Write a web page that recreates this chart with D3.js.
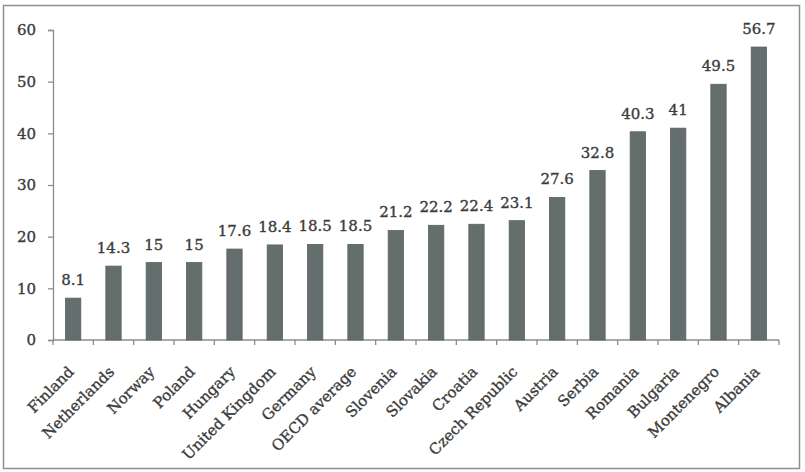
<!DOCTYPE html>
<html>
<head>
<meta charset="utf-8">
<script src="https://cdn.jsdelivr.net/npm/d3@7"></script>
<style>
  body { margin: 0; background: #fff; }
  svg text { font-family: 'DejaVu Serif', serif; fill: #3c3c3c; stroke: #3c3c3c; stroke-width: 0.35px; }
</style>
</head>
<body>
<svg id="chart" width="805" height="472"></svg>
<script>
const countries = ['Finland', 'Netherlands', 'Norway', 'Poland', 'Hungary', 'United Kingdom',
  'Germany', 'OECD average', 'Slovenia', 'Slovakia', 'Croatia', 'Czech Republic',
  'Austria', 'Serbia', 'Romania', 'Bulgaria', 'Montenegro', 'Albania'];
const values = [8.1, 14.3, 15, 15, 17.6, 18.4, 18.5, 18.5, 21.2, 22.2, 22.4, 23.1,
  27.6, 32.8, 40.3, 41, 49.5, 56.7];
const yTicks = [0, 10, 20, 30, 40, 50, 60];

const w = 805;
const h = 472;
const margin = { top: 30, right: 26, bottom: 132, left: 53 };

const svg = d3.select('#chart');

// outer frame
svg.append('rect')
  .attr('x', 3.5).attr('y', 5.5)
  .attr('width', 796).attr('height', 463)
  .attr('fill', 'none')
  .attr('stroke', '#8f8f8f')
  .attr('stroke-width', 1.5);

const xScale = d3.scaleBand()
  .domain(countries)
  .range([margin.left, w - margin.right])
  .paddingInner(0.62)
  .paddingOuter(0.31);

const yScale = d3.scaleLinear()
  .domain([0, 60])
  .range([h - margin.bottom, margin.top]);

// y axis
const yAxis = svg.append('g')
  .attr('transform', `translate(${margin.left}, 0)`)
  .call(d3.axisLeft(yScale).tickValues(yTicks).tickSize(5).tickPadding(12).tickFormat(d3.format('d')));
yAxis.select('.domain').attr('stroke', '#8c8c8c').attr('stroke-width', 1.3);
yAxis.selectAll('.tick line').attr('stroke', '#8c8c8c').attr('stroke-width', 1.3);
yAxis.selectAll('.tick text').style('font-size', '15px').style('font-family', "'DejaVu Serif', serif").attr('fill', '#3c3c3c');

// x axis with ticks at category boundaries
const xAxisG = svg.append('g')
  .attr('transform', `translate(0, ${yScale(0)})`);
xAxisG.append('line')
  .attr('x1', margin.left).attr('x2', w - margin.right)
  .attr('stroke', '#8c8c8c').attr('stroke-width', 1.3);
const step = xScale.step();
const bounds = d3.range(countries.length + 1).map(i => margin.left + i * step);
xAxisG.selectAll('.xtick')
  .data(bounds)
  .enter()
  .append('line')
  .attr('x1', d => d).attr('x2', d => d)
  .attr('y1', 0).attr('y2', 5)
  .attr('stroke', '#8c8c8c').attr('stroke-width', 1.3);

xAxisG.selectAll('.xlabel')
  .data(countries)
  .enter()
  .append('text')
  .attr('transform', d => `translate(${xScale(d) + xScale.bandwidth() / 2 - 2}, 29) rotate(-45)`)
  .attr('text-anchor', 'end')
  .attr('dy', '0.35em')
  .style('font-size', '15px')
  .text(d => d);

// bars
svg.selectAll('.bar')
  .data(values)
  .enter()
  .append('rect')
  .attr('class', 'bar')
  .attr('x', (d, i) => xScale(countries[i]))
  .attr('y', d => yScale(d))
  .attr('width', xScale.bandwidth())
  .attr('height', d => yScale(0) - yScale(d))
  .attr('fill', '#646e6c')
  .attr('stroke', '#5a6361')
  .attr('stroke-width', 0.8);

// value labels
svg.selectAll('.value')
  .data(values)
  .enter()
  .append('text')
  .attr('x', (d, i) => xScale(countries[i]) + xScale.bandwidth() / 2)
  .attr('y', d => yScale(d) - 13)
  .attr('text-anchor', 'middle')
  .style('font-size', '15px')
  .text(d => d);
</script>
</body>
</html>
